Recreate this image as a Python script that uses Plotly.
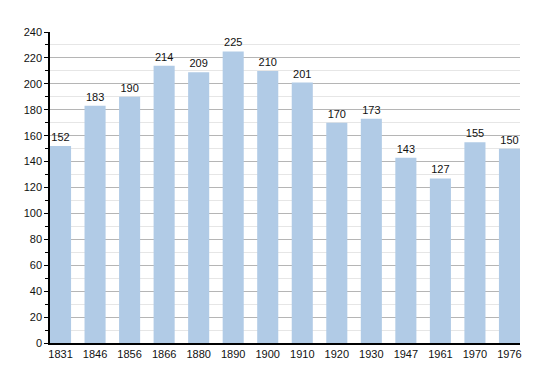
import plotly.graph_objects as go

years = ["1831", "1846", "1856", "1866", "1880", "1890", "1900", "1910", "1920", "1930", "1947", "1961", "1970", "1976"]
population = [152, 183, 190, 214, 209, 225, 210, 201, 170, 173, 143, 127, 155, 150]

bar_w = 0.61
n = len(years)

fig = go.Figure(go.Bar(
    x=list(range(n)),
    y=population,
    width=bar_w,
    marker=dict(color="#b1cbe6", line=dict(width=0)),
    text=[str(v) for v in population],
    textposition="outside",
    cliponaxis=False,
    textfont=dict(family="Liberation Sans, Arial, sans-serif", size=11, color="#111"),
))

fig.update_layout(
    width=550, height=373,
    margin=dict(l=42, r=38, t=24, b=38),
    paper_bgcolor="white", plot_bgcolor="white",
    showlegend=False,
    font=dict(family="Liberation Sans, Arial, sans-serif", size=11, color="#111"),
    xaxis=dict(
        tickmode="array", tickvals=list(range(n)), ticktext=years,
        range=[-bar_w / 2, n - 1 + bar_w / 2],
        showgrid=False, showline=True, linecolor="black", linewidth=1.5,
        ticks="", zeroline=False,
    ),
    yaxis=dict(
        range=[0, 240], dtick=20, showgrid=True, gridcolor="#b5b5b5", gridwidth=1,
        showline=True, linecolor="black", linewidth=1.5,
        ticks="outside", ticklen=4, tickcolor="black",
        minor=dict(dtick=10, showgrid=True, gridcolor="#e6e6e6", ticks="outside", ticklen=3, tickcolor="black"),
        zeroline=False,
    ),
)

fig.write_html("out.html")
